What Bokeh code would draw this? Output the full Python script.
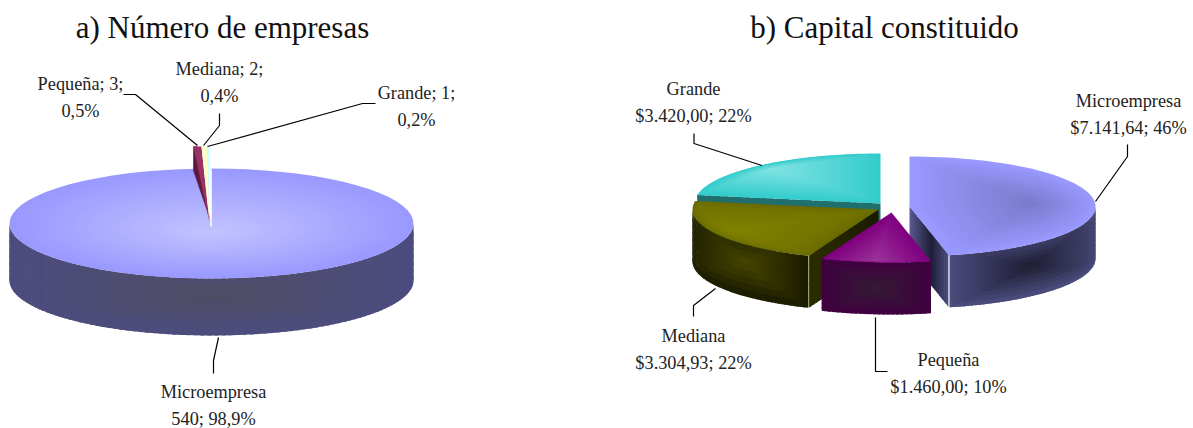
from bokeh.plotting import figure
from bokeh.embed import file_html
from bokeh.resources import INLINE
from bokeh.core.properties import value
from bokeh.models import Range1d
import math

# ---- data ----
size_names = ["Microempresa", "Pequeña", "Mediana", "Grande"]
empresas = [540, 3, 2, 1]
empresas_pct = ["98,9%", "0,5%", "0,4%", "0,2%"]
capital = [7141.64, 1460.00, 3304.93, 3420.00]
capital_text = ["$7.141,64", "$1.460,00", "$3.304,93", "$3.420,00"]
capital_pct = ["46%", "10%", "22%", "22%"]
title_a = "a) Número de empresas"
title_b = "b) Capital constituido"

FONT = value("Liberation Serif")
W, H = 1193, 428
p = figure(width=W, height=H, x_range=Range1d(0, W), y_range=Range1d(H, 0),
           output_backend="svg", toolbar_location=None, min_border=0,
           x_axis_location=None, y_axis_location=None, outline_line_color=None,
           margin=(0, 0, 0, 0))
p.grid.visible = False
p.background_fill_color = "white"


def hx(c):
    return tuple(int(c[i:i + 2], 16) for i in (1, 3, 5))


def mix(a, b, t):
    a, b = hx(a), hx(b)
    t = max(0.0, min(1.0, t))
    return "#%02x%02x%02x" % tuple(round(a[i] + (b[i] - a[i]) * t) for i in range(3))


def rim(cx, cy, rx, ry, deg):
    t = math.radians(deg)
    return cx + rx * math.sin(t), cy - ry * math.cos(t)


def angles(vals):
    tot = sum(vals)
    out, a = [], 0.0
    for v in vals:
        out.append((a, a + 360.0 * v / tot))
        a += 360.0 * v / tot
    return out


def poly(pts, color, lw=0.6):
    p.patch([q[0] for q in pts], [q[1] for q in pts], fill_color=color, line_color=color, line_width=lw)


def top(c, rx, ry, a0, a1, edge, mid, focus=None, steps=22, power=1.0):
    pts = [c] + [rim(c[0], c[1], rx, ry, a0 + (a1 - a0) * i / 70) for i in range(71)]
    if focus is None:
        focus = (sum(q[0] for q in pts) / len(pts), sum(q[1] for q in pts) / len(pts))
    xs, ys, cols = [], [], []
    for k in range(steps):
        s = 1 - k / steps
        xs.append([focus[0] + s * (q[0] - focus[0]) for q in pts])
        ys.append([focus[1] + s * (q[1] - focus[1]) for q in pts])
        cols.append(mix(edge, mid, (k / max(1, steps - 1)) ** power))
    p.patches(xs, ys, fill_color=cols, line_color=None)


def wall(c, rx, ry, depth, a0, a1, edge, mid, fx=0.5, fy=0.5, nx=60, ny=10):
    lo, hi = max(a0, 90), min(a1, 270)
    xs, ys, cols = [], [], []
    xa, xb = rim(c[0], c[1], rx, ry, lo)[0], rim(c[0], c[1], rx, ry, hi)[0]
    for i in range(nx):
        t0 = lo + (hi - lo) * i / nx
        t1 = lo + (hi - lo) * (i + 1) / nx
        t2 = min(hi, t1 + (hi - lo) / nx * 0.6)      # overlap the next strip: hides seams
        q0 = rim(c[0], c[1], rx, ry, t0)
        q1 = rim(c[0], c[1], rx, ry, t2)
        for j in range(ny):
            v0, v1 = j / ny, (j + 1) / ny
            vv = min(1.0, v1 + 0.6 / ny)
            xs.append([q0[0], q1[0], q1[0], q0[0]])
            ys.append([q0[1] + depth * v0, q1[1] + depth * v0, q1[1] + depth * vv, q0[1] + depth * vv])
            qm = rim(c[0], c[1], rx, ry, (t0 + t1) / 2)
            u = (qm[0] - min(xa, xb)) / max(1e-6, abs(xa - xb))
            du = abs(u - fx) / max(fx, 1 - fx)
            dv = abs((v0 + v1) / 2 - fy) / max(fy, 1 - fy)
            cols.append(mix(mid, edge, max(du, dv)))
    p.patches(xs, ys, fill_color=cols, line_color=None)


def face(c, rx, ry, depth, deg, edge, mid, fx=0.5, n=24):
    e = rim(c[0], c[1], rx, ry, deg)
    xs, ys, cols = [], [], []
    for i in range(n):
        a, b = i / n, (i + 1) / n
        bb = min(1.0, b + 0.6 / n)
        xa, ya = c[0] + (e[0] - c[0]) * a, c[1] + (e[1] - c[1]) * a
        xb, yb = c[0] + (e[0] - c[0]) * bb, c[1] + (e[1] - c[1]) * bb
        xs.append([xa, xb, xb, xa])
        ys.append([ya, yb, yb + depth, ya + depth])
        cols.append(mix(mid, edge, abs((a + b) / 2 - fx) / max(fx, 1 - fx)))
    p.patches(xs, ys, fill_color=cols, line_color=None)


def leader(xs, ys):
    p.line(xs, ys, line_color="black", line_width=1.2)


def label(x, y, lines, size="18.3px", gap=27):
    for i, s in enumerate(lines):
        p.text([x], [y + i * gap], text=[s], text_font=FONT, text_font_size=size, text_color="#222222",
               text_align="center", text_baseline="middle")


# --------------- left pie ----------------
ang_a = angles(empresas)
Ca, rxa, rya, da = (211, 223), 202, 55, 57
wall(Ca, rxa, rya, da, ang_a[0][0], ang_a[0][1], "#4c4c80", "#4f4d63", fx=0.5, fy=0.3, nx=90, ny=8)
top(Ca, rxa, rya, ang_a[0][0], ang_a[0][1], "#9999ff", "#c2c2ff", focus=(211, 232), steps=28)
# small slices, pulled up behind the rim
Cs, rxs, rys = (209, 222), 232, 76
a0, a1 = ang_a[1]
e0 = rim(Cs[0], Cs[1], rxs, rys, a0)
poly([(e0[0], e0[1]), (e0[0], 170), (Cs[0] - 1, Cs[1] - 8), rim(Cs[0], Cs[1], rxs, rys, a0 + 0.9)], "#5e1a3e")
top(Cs, rxs, rys, a0, a1, "#993366", "#993366", steps=1)
top(Cs, rxs, rys, ang_a[2][0], ang_a[2][1], "#ffffcc", "#ffffcc", steps=1)
top(Cs, rxs, rys, ang_a[3][0], ang_a[3][1], "#ccffff", "#ccffff", steps=1)
p.line([210.5, 210.5], [170, 226], line_color="white", line_width=1.6)

leader([123, 135, 197], [94, 94, 145])
leader([219, 219, 203], [113, 125, 145])
leader([375, 362, 207], [103, 103, 146])
leader([218, 213, 213], [337, 360, 373])

label(80, 83, [f"{size_names[1]}; {empresas[1]};", empresas_pct[1]])
label(219, 68, [f"{size_names[2]}; {empresas[2]};", empresas_pct[2]])
label(416, 92, [f"{size_names[3]}; {empresas[3]};", empresas_pct[3]])
label(213, 391, [size_names[0], f"{empresas[0]}; {empresas_pct[0]}"])

# --------------- right pie ----------------
ang_b = angles(capital)
rxb, ryb, db = 186, 50, 52
Cm, Cp, Cd, Cg = (909, 206), (891, 212), (878, 209), (880, 203)

# Grande (back)
face(Cg, rxb, ryb, db, ang_b[3][0], "#1f6f6f", "#1f6f6f")
top(Cg, rxb, ryb, ang_b[3][0], ang_b[3][1], "#33cccc", "#80e2e2", steps=22)
# Mediana
wall(Cd, rxb, ryb, db, ang_b[2][0], ang_b[2][1], "#1a1a00", "#454500", fx=0.45, fy=0.35, ny=8)
face(Cd, rxb, ryb, db, ang_b[2][0], "#1a1a00", "#2c2c00", fx=0.9)
top(Cd, rxb, ryb, ang_b[2][0], ang_b[2][1], "#6b6b00", "#808000", steps=22, power=0.6)
md = rim(Cd[0], Cd[1], rxb, ryb, ang_b[2][0])
p.line([md[0], md[0]], [md[1], md[1] + db], line_color="#cfcfa0", line_width=0.8)
# Microempresa
face(Cm, rxb, ryb, db, ang_b[0][1], "#5a5a92", "#1e1e38", fx=0.55)
wall(Cm, rxb, ryb, db, ang_b[0][0], ang_b[0][1], "#4d4d80", "#1e1e33", fx=0.55, fy=0.4, ny=12)
top(Cm, rxb, ryb, ang_b[0][0], ang_b[0][1], "#9999ff", "#7b7bcc", steps=22)
em = rim(Cm[0], Cm[1], rxb, ryb, ang_b[0][1])
p.line([em[0], em[0]], [em[1], em[1] + db], line_color="white", line_width=1.2)
# Pequeña
wall(Cp, rxb, ryb, db, ang_b[1][0], ang_b[1][1], "#400040", "#331a33", nx=24, ny=12)
top(Cp, rxb, ryb, ang_b[1][0], ang_b[1][1], "#800080", "#993399", steps=18)

leader([693.5, 693.5, 761.5], [133, 143, 165])
leader([1127, 1127, 1095], [144, 156, 201])
leader([693, 693, 715], [316, 305, 288])
leader([875, 875, 887], [317, 371, 371])

label(693, 88, [size_names[3], f"{capital_text[3]}; {capital_pct[3]}"])
label(1128, 100, [size_names[0], f"{capital_text[0]}; {capital_pct[0]}"])
label(693, 335, [size_names[2], f"{capital_text[2]}; {capital_pct[2]}"])
label(948, 359, [size_names[1], f"{capital_text[1]}; {capital_pct[1]}"])

# --------------- titles ----------------
p.text([222, 884], [27, 27], text=[title_a, title_b], text_font=FONT, text_font_size="31px",
       text_color="#111111", text_align="center", text_baseline="middle")

open("out.html", "w").write(file_html(p, INLINE))
